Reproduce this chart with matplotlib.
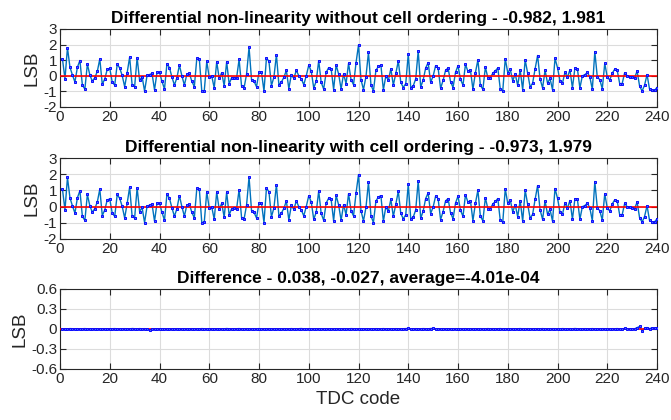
import numpy as np
import matplotlib as mpl
mpl.use("Agg")
from matplotlib import pyplot as plt

plt.rcParams['font.family'] = ['Liberation Sans', 'DejaVu Sans']

# TDC codes
codes = np.arange(1, 241)

# DNL without cell ordering (LSB)
dnl_raw = [
    1.06, -0.20, 1.80, 0.55, 0.05, -0.40, 0.55, 0.98, -0.60, -0.85,
    0.75, 0.05, -0.35, -0.12, 0.28, 1.08, -0.55, -0.20, 0.42, 0.47,
    -0.40, -0.60, 0.75, 0.50, 0.02, -0.70, 0.20, 1.20, -0.60, -0.70,
    1.17, -0.30, -0.05, -0.98, 0.02, 0.08, 0.15, -0.90, 0.22, 0.22,
    -0.35, -0.85, 0.78, 0.52, -0.08, -0.60, -0.12, 0.68, 0.00, -0.60,
    0.10, 0.15, -0.35, -0.70, 1.12, 1.10, -0.98, -0.95, 0.92, -0.10,
    -0.02, -0.78, 0.90, -0.17, 0.20, -0.65, 0.90, -0.52, -0.12, -0.12,
    -0.12, 1.05, -0.68, -0.77, 0.10, 1.83, -0.25, -0.35, -0.70, 0.22,
    0.22, -0.98, 1.15, 0.92, -0.63, -0.08, 1.35, -0.57, -0.40, -0.10,
    0.35, -0.83, 0.08, -0.17, 0.35, 0.00, -0.20, -0.57, 0.00, 0.68,
    0.30, -0.78, -0.35, 0.97, -0.42, -0.85, 0.22, 0.52, 0.45, -0.88,
    0.70, 0.12, -0.85, 0.12, -0.50, 0.80, -0.25, -0.57, 0.82, 1.98,
    -0.25, -0.88, -0.05, 1.50, -0.57, -0.98, 0.35, 0.60, 0.68, -0.90,
    0.00, -0.30, 0.45, -0.60, 0.15, 0.95, -0.42, -0.75, -0.50, 1.40,
    -0.75, -0.65, -0.20, 1.60, -0.72, -0.27, 0.50, 0.85, -0.42, -0.02,
    0.65, 0.50, -0.80, -0.30, 0.35, 0.50, -0.37, -0.75, 0.22, 0.65,
    -0.23, -0.60, 0.73, 0.28, 0.37, -0.87, 0.20, 1.02, -0.60, -0.87,
    0.55, -0.12, -0.12, 0.17, 0.32, 0.50, -0.85, -0.95, 1.10, 0.20,
    0.42, -0.32, 0.12, -0.62, 0.38, -0.90, 1.02, 0.17, -0.72, -0.47,
    0.45, 1.30, -0.20, -0.78, 0.35, -0.47, -0.17, -0.90, 1.12, 0.52,
    -0.32, -0.47, 0.22, -0.08, 0.38, -0.78, 0.50, 0.45, -0.78, 0.00,
    0.07, 0.22, -0.08, -0.87, 1.55, -0.08, -0.25, -0.83, 0.80, -0.08,
    -0.27, 0.17, 0.42, 0.35, -0.50, -0.50, 0.20, 0.00, -0.05, -0.08,
    -0.12, 0.30, -0.65, -0.98, -0.60, 0.08, -0.85, -0.93, -0.93, -0.75,
]

# difference (raw - ordered), in units of 0.001 LSB
diff_milli = [
    3, 5, 2, 6, 4, 3, 5, 2, 4, 6, 3, 2, 4, 1, -3, 2, 4, 3, 1, 2,
    4, 6, 3, -4, 2, 5, 3, 1, 7, 4, 2, 6, 3, 5, 1, -12, -4, 2, 3, 5,
    4, 2, 3, 1, -2, 3, 5, 2, 4, -3, 2, 3, 5, 2, -2, 3, 6, 4, 2, 3,
    5, 1, 3, 4, -2, 3, 7, 4, 2, -3, 4, 6, 3, 2, 5, 3, 1, 4, 2, 6,
    -3, 2, 4, 5, 2, 3, 4, -2, 3, 5, 4, 2, 6, 3, 2, 4, 7, 3, 2, 5,
    4, 3, 2, 5, 4, 3, 1, 4, 2, -3, 3, 4, -2, 5, 3, 2, 6, 4, 3, 2,
    5, 3, 4, -2, 3, 2, 5, 4, 3, 6, 3, 2, 4, 3, 5, 3, 2, 4, 6, 8,
    3, 2, 5, 4, 3, 6, 4, 3, 7, 9, 3, 2, 4, 5, -2, 3, 4, 2, 5, 3,
    -2, 4, 5, 3, 2, 4, 1, 3, 5, 4, 2, 6, 3, 5, 2, 4, 6, 3, 2, 4,
    3, 5, 2, 4, 6, 3, 2, 5, 3, 4, 2, 5, 3, 6, 2, 4, 3, 5, 4, 2,
    3, 6, 4, 2, 5, 3, 7, 4, 3, 2, 5, 4, 3, 6, 2, 4, 3, 5, 4, 2,
    3, 5, 4, 6, 3, 2, 8, 4, 3, 2, 4, 20, 38, -27, 12, 22, 5, 18, 14, 10,
]

dnl_diff = np.array(diff_milli) / 1000.0
dnl_ord = np.array(dnl_raw) - dnl_diff

line_col = '#0072BD'
tick_col = '#262626'


def draw_panel(ax, y, title, ylim, yticks, yticklabels):
    ax.plot(codes, y, '-', color=line_col, lw=1, zorder=2)
    ax.axhline(0, color='red', lw=1.2, zorder=3)
    ax.plot(codes, y, 's', ms=2.1, mec='#0a0aff', mfc='#4a66ff', mew=0.7, zorder=4)
    ax.set_xlim(0, 240)
    ax.set_ylim(*ylim)
    ax.set_xticks(np.arange(0, 241, 20))
    ax.set_yticks(yticks)
    ax.set_yticklabels(yticklabels)
    ax.grid(True, color='#dcdcdc', lw=0.8)
    ax.set_axisbelow(True)
    ax.tick_params(direction='in', length=4, top=True, right=True,
                   labelsize=11, colors=tick_col, labelcolor=tick_col, pad=2)
    for s in ax.spines.values():
        s.set_color(tick_col)
        s.set_linewidth(0.8)
    ax.set_ylabel('LSB', fontsize=13.5, color=tick_col, labelpad=2)
    ax.set_title(title, fontsize=12.5, fontweight='bold', pad=4)


fig = plt.figure(figsize=(6.71, 4.2), dpi=100)
W, H = 671.0, 420.0
ax1 = fig.add_axes([60 / W, 1 - 107 / H, 597 / W, 78 / H])
ax2 = fig.add_axes([60 / W, 1 - 239 / H, 597 / W, 81 / H])
ax3 = fig.add_axes([60 / W, 1 - 369 / H, 597 / W, 80 / H])

dnl_ticks = [-2, -1, 0, 1, 2, 3]
dnl_labels = ['-2', '-1', '0', '1', '2', '3']
diff_ticks = [-0.6, -0.3, 0, 0.3, 0.6]
diff_labels = ['-0.6', '-0.3', '0', '0.3', '0.6']

draw_panel(ax1, dnl_raw, 'Differential non-linearity without cell ordering - -0.982, 1.981',
           (-2, 3), dnl_ticks, dnl_labels)
draw_panel(ax2, dnl_ord, 'Differential non-linearity with cell ordering - -0.973, 1.979',
           (-2, 3), dnl_ticks, dnl_labels)
draw_panel(ax3, dnl_diff, 'Difference - 0.038, -0.027, average=-4.01e-04',
           (-0.6, 0.6), diff_ticks, diff_labels)
ax3.set_xlabel('TDC code', fontsize=13.5, color=tick_col, labelpad=4)

fig.savefig('out.png', dpi=100)
